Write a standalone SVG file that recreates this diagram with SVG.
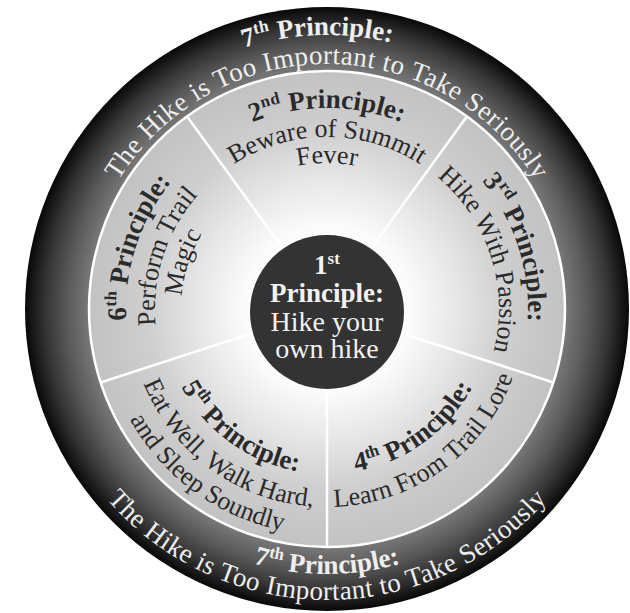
<svg xmlns="http://www.w3.org/2000/svg" width="630" height="613" viewBox="0 0 630 613">
<defs>
<radialGradient id="gRing" gradientUnits="userSpaceOnUse" cx="327" cy="309" r="302">
<stop offset="0.78" stop-color="#7c7c7c"/>
<stop offset="0.86" stop-color="#5a5a5a"/>
<stop offset="0.93" stop-color="#363636"/>
<stop offset="1" stop-color="#080808"/>
</radialGradient>
<radialGradient id="gSeg" gradientUnits="userSpaceOnUse" cx="327" cy="309" r="238">
<stop offset="0" stop-color="#ffffff"/>
<stop offset="0.35" stop-color="#fbfbfb"/>
<stop offset="0.55" stop-color="#e6e6e6"/>
<stop offset="0.75" stop-color="#cfcfcf"/>
<stop offset="1" stop-color="#c2c2c2"/>
</radialGradient>
<path id="t201" d="M126.76,291.48 A201 201 0 0 1 527.24,291.48"/>
<path id="t172" d="M155.65,294.01 A172 172 0 0 1 498.35,294.01"/>
<path id="t146" d="M181.56,296.27 A146 146 0 0 1 472.44,296.27"/>
<path id="b165" d="M162.63,323.38 A165 165 0 0 0 491.37,323.38"/>
<path id="b198" d="M129.75,326.26 A198 198 0 0 0 524.25,326.26"/>
<path id="b226" d="M101.86,328.70 A226 226 0 0 0 552.14,328.70"/>
<path id="r274" d="M54.04,285.12 A274 274 0 0 1 599.96,285.12"/>
<path id="r245" d="M82.93,287.65 A245 245 0 0 1 571.07,287.65"/>
<path id="r265" d="M63.01,332.10 A265 265 0 0 0 590.99,332.10"/>
<path id="r291" d="M37.11,334.36 A291 291 0 0 0 616.89,334.36"/>
</defs>
<style>
text{font-family:"Liberation Serif","Times New Roman",serif}
.ring{font-size:27px;fill:#eeeeee}
.seg{font-size:26px;fill:#2a2a2a}
.ctr{font-size:28px;fill:#f2f2f2}
.b{font-weight:bold;font-size:27px}
.sup{font-size:17px}
.div{stroke:#ffffff;stroke-width:2.5;fill:none}
</style>

<g id="ring-7">
<circle cx="327" cy="309" r="302" fill="url(#gRing)"/>
<g transform="rotate(-2 327 309)">
<text class="ring b"><textPath href="#r274" startOffset="50%" text-anchor="middle">7<tspan class="sup" dy="-10">th</tspan><tspan dy="10"> Principle:</tspan></textPath></text>
</g>
<text class="ring" letter-spacing="0.4"><textPath href="#r245" startOffset="50%" text-anchor="middle">The Hike is Too Important to Take Seriously</textPath></text>
<text class="ring b"><textPath href="#r265" startOffset="50%" text-anchor="middle">7<tspan class="sup" dy="-10">th</tspan><tspan dy="10"> Principle:</tspan></textPath></text>
<text class="ring" letter-spacing="0.4"><textPath href="#r291" startOffset="50%" text-anchor="middle">The Hike is Too Important to Take Seriously</textPath></text>
</g>

<g id="wheel">
<circle cx="327" cy="309" r="238" fill="url(#gSeg)" stroke="#ffffff" stroke-width="2.5"/>
</g>

<g id="connectors">
<line class="div" x1="327" y1="309" x2="466.9" y2="116.5"/>
<line class="div" x1="327" y1="309" x2="187.1" y2="116.5"/>
<line class="div" x1="327" y1="309" x2="553.4" y2="382.5"/>
<line class="div" x1="327" y1="309" x2="100.6" y2="382.5"/>
<line class="div" x1="327" y1="309" x2="327" y2="547"/>
</g>

<g id="seg-2">
<text class="seg b"><textPath href="#t201" startOffset="50%" text-anchor="middle">2<tspan class="sup" dy="-10">nd</tspan><tspan dy="10"> Principle:</tspan></textPath></text>
<text class="seg"><textPath href="#t172" startOffset="50%" text-anchor="middle">Beware of Summit</textPath></text>
<text class="seg"><textPath href="#t146" startOffset="50%" text-anchor="middle">Fever</textPath></text>
</g>

<g id="seg-3" transform="rotate(72 327 309)">
<text class="seg b"><textPath href="#t201" startOffset="50%" text-anchor="middle">3<tspan class="sup" dy="-10">rd</tspan><tspan dy="10"> Principle:</tspan></textPath></text>
<text class="seg"><textPath href="#t172" startOffset="50%" text-anchor="middle">Hike With Passion</textPath></text>
</g>

<g id="seg-4" transform="rotate(-36 327 309)">
<text class="seg b"><textPath href="#b165" startOffset="50%" text-anchor="middle">4<tspan class="sup" dy="-10">th</tspan><tspan dy="10"> Principle:</tspan></textPath></text>
<text class="seg"><textPath href="#b198" startOffset="50%" text-anchor="middle">Learn From Trail Lore</textPath></text>
</g>

<g id="seg-5" transform="rotate(36 327 309)">
<text class="seg b"><textPath href="#b165" startOffset="50%" text-anchor="middle">5<tspan class="sup" dy="-10">th</tspan><tspan dy="10"> Principle:</tspan></textPath></text>
<text class="seg"><textPath href="#b198" startOffset="50%" text-anchor="middle">Eat Well, Walk Hard,</textPath></text>
<text class="seg"><textPath href="#b226" startOffset="50%" text-anchor="middle">and Sleep Soundly</textPath></text>
</g>

<g id="seg-6" transform="rotate(-72 327 309)">
<text class="seg b"><textPath href="#t201" startOffset="50%" text-anchor="middle">6<tspan class="sup" dy="-10">th</tspan><tspan dy="10"> Principle:</tspan></textPath></text>
<text class="seg"><textPath href="#t172" startOffset="50%" text-anchor="middle">Perform Trail</textPath></text>
<text class="seg"><textPath href="#t146" startOffset="50%" text-anchor="middle">Magic</textPath></text>
</g>

<g id="seg-1">
<circle cx="327" cy="312" r="77" fill="#333333"/>
<text class="ctr b" x="327" y="274" text-anchor="middle">1<tspan class="sup" dy="-10">st</tspan></text>
<text class="ctr b" x="327" y="302" text-anchor="middle">Principle:</text>
<text class="ctr" x="327" y="331" text-anchor="middle">Hike your</text>
<text class="ctr" x="327" y="358" text-anchor="middle">own hike</text>
</g>
</svg>
